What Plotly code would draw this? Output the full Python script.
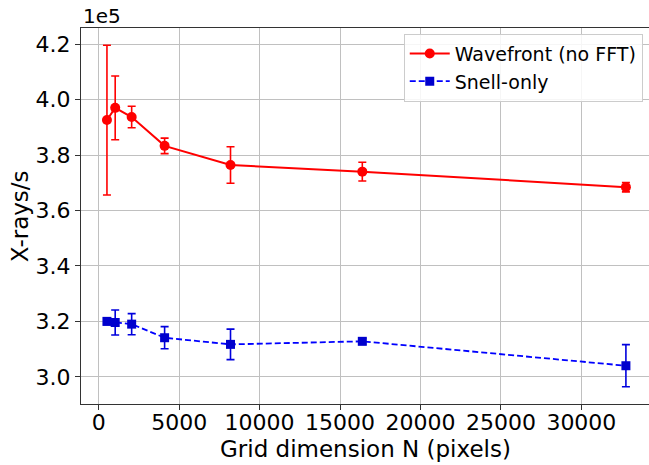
import plotly.graph_objects as go

# Data
grid_n = [512, 1024, 2048, 4096, 8192, 16384, 32768]
wavefront = [392600, 397000, 393700, 383300, 376400, 374000, 368400]
wavefront_err = [27000, 11500, 3900, 2800, 6600, 3400, 1700]
snell = [320000, 319600, 319000, 314100, 311700, 312800, 304000]
snell_err = [1200, 4500, 3800, 4000, 5500, 1000, 7600]
SCALE = 1e5

y_ticks = [3.0, 3.2, 3.4, 3.6, 3.8, 4.0, 4.2]
x_ticks = [0, 5000, 10000, 15000, 20000, 25000, 30000]

FONT = "DejaVu Sans"

fig = go.Figure()
fig.add_trace(go.Scatter(
    x=grid_n, y=[v / SCALE for v in wavefront],
    error_y=dict(type="data", array=[e / SCALE for e in wavefront_err],
                 color="#ff0000", thickness=1.6, width=4),
    mode="lines+markers", name="Wavefront (no FFT)",
    line=dict(color="#ff0000", width=2),
    marker=dict(color="#ff0000", size=10, symbol="circle"),
))
fig.add_trace(go.Scatter(
    x=grid_n, y=[v / SCALE for v in snell],
    error_y=dict(type="data", array=[e / SCALE for e in snell_err],
                 color="#0000dd", thickness=1.6, width=4),
    mode="lines+markers", name="Snell-only",
    line=dict(color="#0000ff", width=1.8, dash="6px,3px"),
    marker=dict(color="#0000cd", size=9, symbol="square"),
))

fig.update_layout(
    width=649, height=465,
    margin=dict(l=81, r=0, t=28, b=61),
    paper_bgcolor="white", plot_bgcolor="white",
    font=dict(family=FONT, size=22, color="#000000"),
    showlegend=True,
    legend=dict(
        x=0.989, y=0.985, xanchor="right", yanchor="top",
        bgcolor="rgba(255,255,255,0.85)", bordercolor="#cccccc", borderwidth=1,
        font=dict(family=FONT, size=19),
        itemwidth=40,
    ),
    annotations=[
        dict(text="1e5", xref="paper", yref="paper", x=0, y=1,
             xanchor="left", yanchor="bottom", showarrow=False,
             font=dict(family=FONT, size=20), yshift=-2),
        dict(text="Grid dimension N (pixels)", xref="paper", yref="paper",
             x=0.5, y=-0.121, xanchor="center", yanchor="middle",
             showarrow=False, font=dict(family=FONT, size=23)),
        dict(text="X-rays/s", xref="paper", yref="paper", textangle=-90,
             x=-0.107, y=0.5, xanchor="center", yanchor="middle",
             showarrow=False, font=dict(family=FONT, size=23)),
    ],
)
fig.update_xaxes(
    range=[-1101, 34203],
    tickmode="array", tickvals=x_ticks, ticktext=[str(t) for t in x_ticks],
    tickfont=dict(family=FONT, size=22),
    showgrid=True, gridcolor="#c0c0c0", gridwidth=1,
    showline=True, mirror=True, linecolor="#333333", linewidth=1.2,
    ticks="outside", ticklen=5, tickcolor="#333333",
    ticklabelstandoff=-7,
    zeroline=False,
)
fig.update_yaxes(
    range=[2.902, 4.258],
    tickmode="array", tickvals=y_ticks, ticktext=[f"{t:.1f}" for t in y_ticks],
    tickfont=dict(family=FONT, size=22),
    showgrid=True, gridcolor="#c0c0c0", gridwidth=1,
    showline=True, mirror=False, linecolor="#333333", linewidth=1.2,
    ticks="outside", ticklen=5, tickcolor="#333333",
    zeroline=False,
)

fig.write_html("out.html")
